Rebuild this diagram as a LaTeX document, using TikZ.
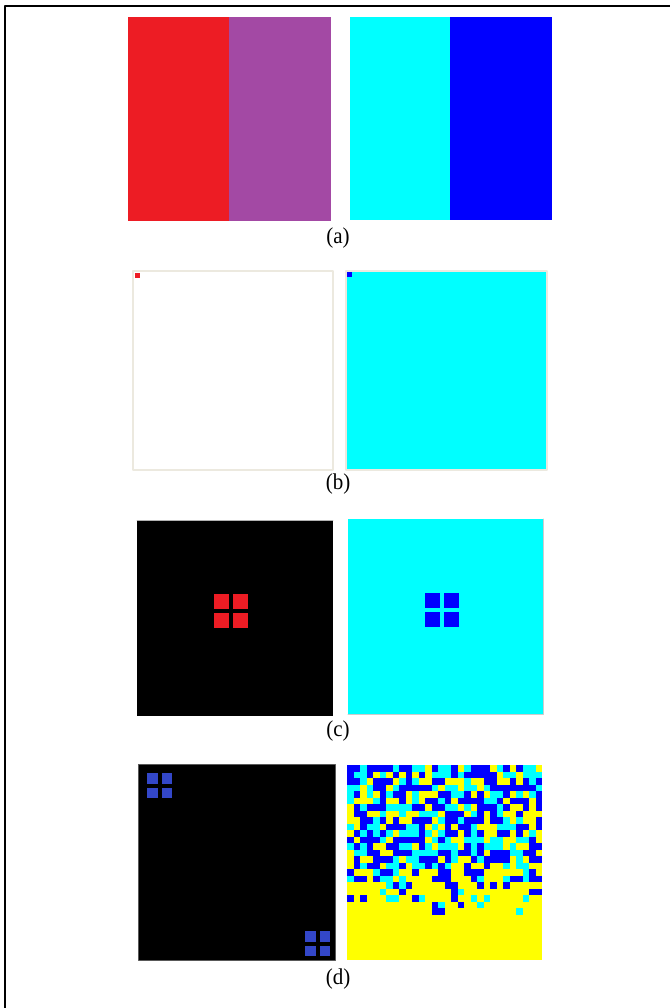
\documentclass[tikz,border=0pt]{standalone}
\usepackage{fontspec}
\setmainfont{Liberation Serif}
\usetikzlibrary{calc}
\definecolor{panelred}{HTML}{ED1C24}
\definecolor{panelpurple}{HTML}{A349A4}
\definecolor{panelcyan}{HTML}{00FFFF}
\definecolor{panelblue}{HTML}{0000FF}
\definecolor{softblue}{HTML}{3347C9}
\definecolor{paneledge}{HTML}{ECE9DF}
\definecolor{gridyellow}{HTML}{FFFF00}
\tikzset{
    lab/.style={
        font=\fontsize{10.5}{12}\selectfont, inner sep=0pt, yscale=1.08
    }
}

\begin{document}
\begin{tikzpicture}[x=0.5pt,y=-0.5pt, line cap=round, line join=round]

\useasboundingbox (0,0) rectangle (670,1008);

% outer frame (left and top only show)
\draw[line width=1pt] (4.5,1008) -- (4.5,5.5) -- (670,5.5);

\def\sq{14.5}
\def\gap{19}
\def\cell{6.5}

% (a): two split panels
\fill[panelred] (128,17) rectangle (229,221);
\fill[panelpurple] (229,17) rectangle (331,221);
\fill[panelcyan] (350,17) rectangle (450,220);
\fill[panelblue] (450,17) rectangle (552,220);
\node[lab] (lblA) at (338,238) {(a)};

% (b): one pixel in the corner
\draw[paneledge, line width=1.2pt, fill=white] (133,271) rectangle (333,470);
\fill[panelred] (134.5,273) rectangle +(5,5);
\draw[paneledge, line width=1.2pt, fill=panelcyan] (346,271) rectangle (547,470);
\fill[panelblue] (347,272) rectangle +(4.5,4.5);
\node[lab] (lblB) at (338,484) {(b)};

% (c): 2x2 block in the middle
\fill[black] (137,520) rectangle (333,716);
\draw[gray!60, line width=0.4pt] (137,520) -- (333,520);
\fill[panelcyan] (348,519) rectangle (543,714);
\draw[gray!40, line width=0.5pt] (543,519) -- (543,714) -- (348,714);
\foreach \dx/\dy in {0/0,\gap/0,0/\gap,\gap/\gap} {
  \fill[panelred] (214+\dx,594+\dy) rectangle +(\sq,\sq);
  \fill[panelblue] (425+\dx,593+\dy) rectangle +(\sq,\sq);
}
\node[lab] (lblC) at (338,731) {(c)};

% (d): blocks in two corners, and a noisy grid
\draw[gray!70!black, line width=0.4pt, fill=black] (138,764) rectangle (335,960);
\foreach \dx/\dy in {0/0,14.5/0,0/14.5,14.5/14.5} {
  \fill[softblue] (147+\dx,773+\dy) rectangle +(10.5,10.5);
  \fill[softblue] (305+\dx,931+\dy) rectangle +(10.5,10.5);
}

\fill[gridyellow] (347,765) rectangle (542,960);
\pgfmathsetseed{4242}
\foreach \r in {0,...,23} {
  \foreach \c in {0,...,29} {
    \pgfmathsetmacro{\pfill}{\r<14 ? 0.72 : max(0,0.72-0.075*(\r-13))}
    \pgfmathsetmacro{\ua}{rnd}
    \pgfmathsetmacro{\ub}{rnd}
    \pgfmathtruncatemacro{\kind}{\ua<\pfill ? (\ub<0.6 ? 1 : 2) : 0}
    \ifnum\kind=1
      \fill[panelblue] (347+\cell*\c,765+\cell*\r) rectangle +(\cell+0.1,\cell+0.1);
    \fi
    \ifnum\kind=2
      \fill[panelcyan] (347+\cell*\c,765+\cell*\r) rectangle +(\cell+0.1,\cell+0.1);
    \fi
  }
}
\node[lab] (lblD) at (338,979) {(d)};

\end{tikzpicture}
\end{document}
